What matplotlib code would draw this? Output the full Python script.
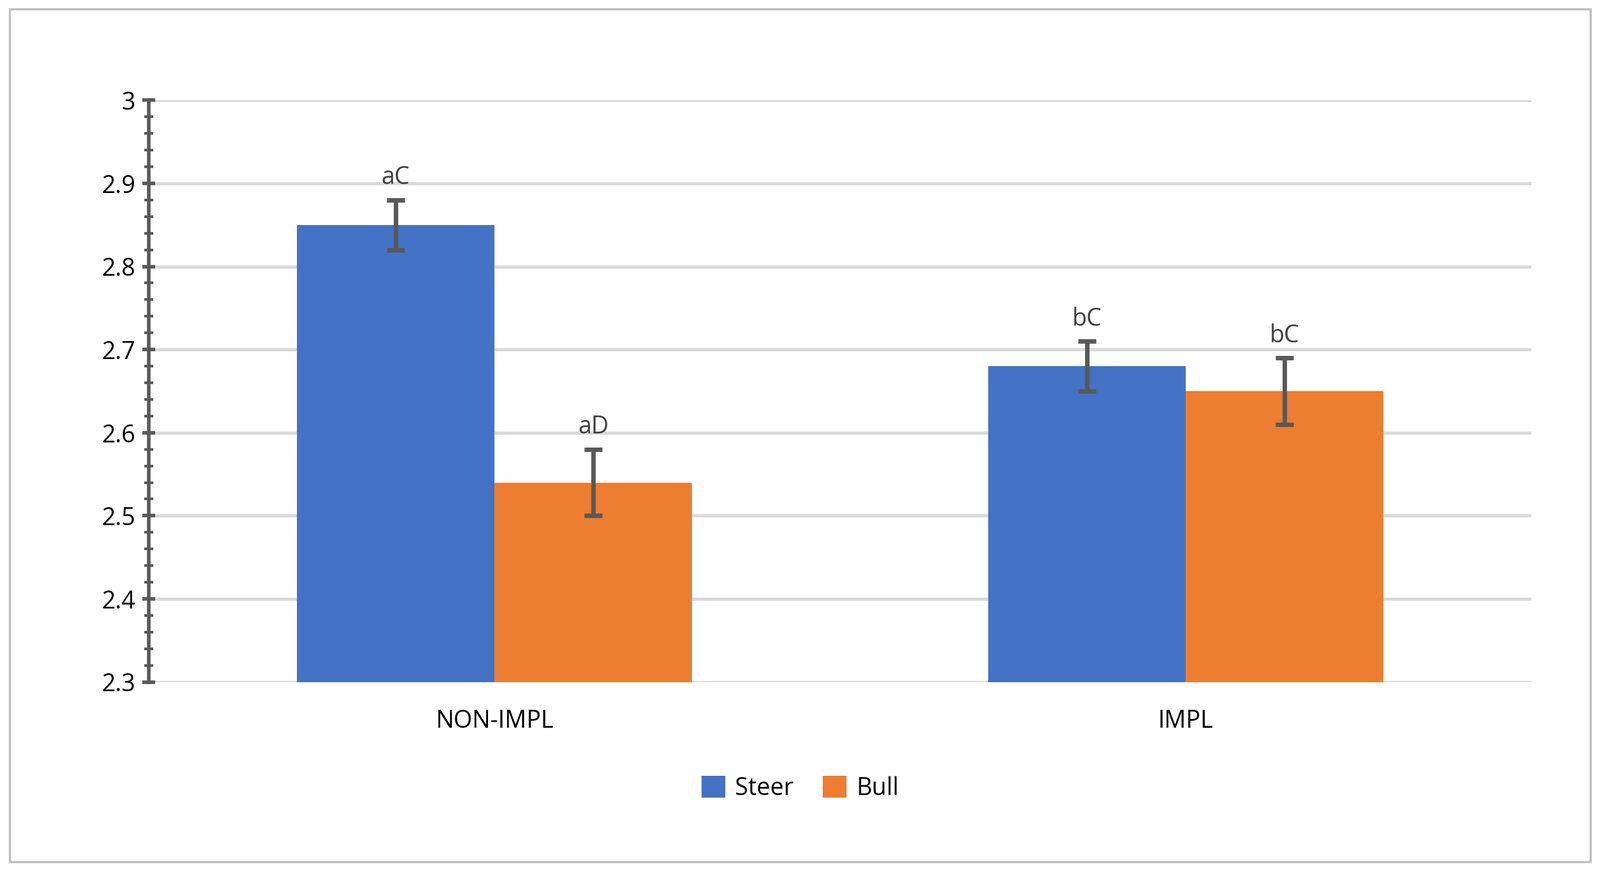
import matplotlib
matplotlib.use("Agg")
import matplotlib.pyplot as plt
from matplotlib.ticker import MultipleLocator
from matplotlib.patches import Rectangle
import numpy as np

categories = ["NON-IMPL", "IMPL"]
steer = [2.85, 2.68]
bull = [2.54, 2.65]
steer_err = [0.03, 0.03]
bull_err = [0.04, 0.04]
steer_lbl = ["aC", "bC"]
bull_lbl = ["aD", "bC"]
yticks = [2.3, 2.4, 2.5, 2.6, 2.7, 2.8, 2.9, 3.0]
ytick_labels = ["2.3", "2.4", "2.5", "2.6", "2.7", "2.8", "2.9", "3"]

plt.rcParams["font.family"] = "Open Sans"
fig = plt.figure(figsize=(24.95, 13.6), dpi=100)
fig.patches.append(Rectangle((0.006, 0.012), 0.988, 0.978, transform=fig.transFigure,
                             fill=False, edgecolor="#bfbfbf", linewidth=2.5))
ax = fig.add_axes([0.093, 0.218, 0.864, 0.667])
x = np.arange(len(categories))
w = 0.286
ax.bar(x - w/2, steer, w, color="#4472C4", label="Steer", zorder=2)
ax.bar(x + w/2, bull, w, color="#ED7D31", label="Bull", zorder=2)
ekw = dict(fmt="none", ecolor="#595959", elinewidth=5, capsize=10, capthick=5, zorder=3)
ax.errorbar(x - w/2, steer, yerr=steer_err, **ekw)
ax.errorbar(x + w/2, bull, yerr=bull_err, **ekw)
for xi, v, e, t in zip(x - w/2, steer, steer_err, steer_lbl):
    ax.text(xi, v + e + 0.012, t, ha="center", va="bottom", fontsize=27, color="#404040")
for xi, v, e, t in zip(x + w/2, bull, bull_err, bull_lbl):
    ax.text(xi, v + e + 0.012, t, ha="center", va="bottom", fontsize=27, color="#404040")

ax.set_xlim(-0.5, 1.5)
ax.set_ylim(2.3, 3.0)
ax.set_yticks(yticks)
ax.set_yticklabels(ytick_labels, fontsize=27)
ax.yaxis.set_minor_locator(MultipleLocator(0.02))
ax.tick_params(axis="y", which="major", length=14, width=4, color="#595959", direction="inout", pad=8)
ax.tick_params(axis="y", which="minor", length=10, width=3, color="#595959", direction="inout")
ax.set_xticks(x)
ax.set_xticklabels(categories, fontsize=27)
ax.tick_params(axis="x", length=0, pad=30)
ax.grid(axis="y", color="#d9d9d9", linewidth=3.5, zorder=0)
ax.set_axisbelow(True)
for s in ["top", "right", "bottom"]:
    ax.spines[s].set_visible(False)
ax.spines["left"].set_color("#595959")
ax.spines["left"].set_linewidth(4)
ax.legend(loc="upper center", bbox_to_anchor=(0.5, 0.005), bbox_transform=fig.transFigure,
          ncol=2, frameon=False, fontsize=27, handlelength=1, handleheight=1, columnspacing=1.2,
          handletextpad=0.4)
ax.get_legend().set_bbox_to_anchor((0.5, 0.135), transform=fig.transFigure)
fig.savefig("out.png", dpi=100)
